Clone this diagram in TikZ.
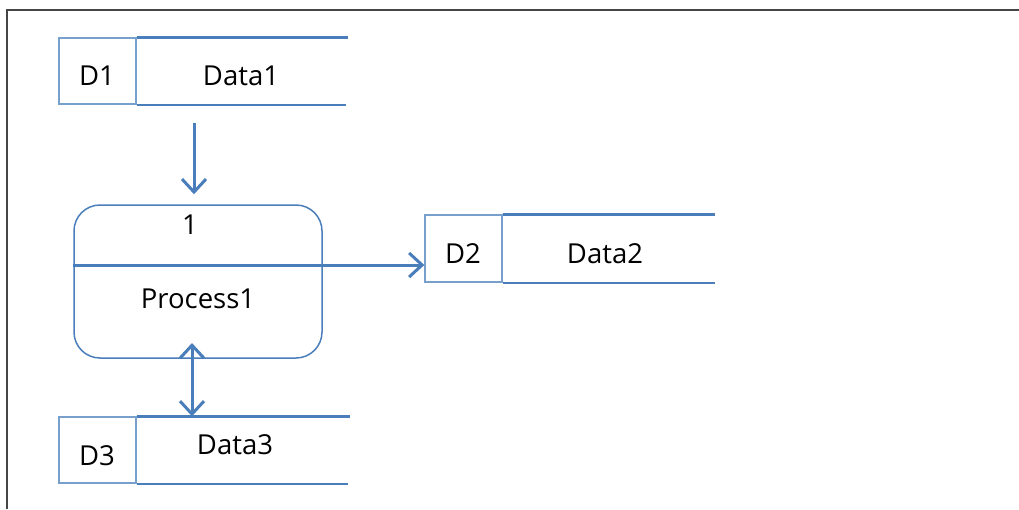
\documentclass[tikz,border=0pt]{standalone}
\usepackage{fontspec}
\setmainfont{Open Sans}
\usetikzlibrary{arrows.meta}
\definecolor{dfdblue}{RGB}{74,126,187}
\definecolor{idblue}{RGB}{120,160,205}
\definecolor{framegray}{RGB}{70,70,70}
\tikzset{
  x=1pt,y=-1pt,
  lbl/.style={font=\fontsize{27.5}{32}\selectfont, text=black, inner sep=0pt},
  idbox/.style={draw=idblue, line width=1.4pt, minimum width=77pt, minimum height=66pt, inner sep=0pt},
  storeline/.style={draw=dfdblue, line width=2.4pt},
  procbox/.style={draw=dfdblue, line width=1.5pt, rounded corners=26pt, minimum width=248pt, minimum height=153pt},
  barb/.tip={Straight Barb[length=13pt,width=24pt,line width=3pt]},
  flow/.style={draw=dfdblue, line width=3pt, -{barb}},
  bflow/.style={draw=dfdblue, line width=3pt, {barb}-{barb}}
}
\begin{document}
\begin{tikzpicture}
\useasboundingbox (0,0) rectangle (1019,509);
% outer frame
\draw[framegray, line width=2pt] (7,509) -- (7,10) -- (1019,10);

% data store D1
\node[idbox] (d1) at (97.5,71) {};
\coordinate (d1end) at (348,38);
\draw[storeline] (d1.north east) -- (d1.north east -| d1end);
\draw[storeline] (d1.south east) -- ([xshift=-2pt]d1.south east -| d1end);
\node[lbl] (d1id) at (97,76) {D1};
\node[lbl] (d1name) at (241,76) {Data1};

% process 1
\node[procbox] (p1) at (198,281.5) {};
\node[lbl] (p1id) at (190,225) {1};
\node[lbl] (p1name) at (198,299) {Process1};

% data store D2
\node[idbox, minimum height=67pt] (d2) at (463.5,248.5) {};
\coordinate (d2end) at (715,215);
\draw[storeline] (d2.north east) -- (d2.north east -| d2end);
\draw[storeline] (d2.south east) -- (d2.south east -| d2end);
\node[lbl] (d2id) at (463,254) {D2};
\node[lbl] (d2name) at (605,254) {Data2};

% data store D3
\node[idbox] (d3) at (97.5,450) {};
\coordinate (d3end) at (350,417);
\draw[storeline] (d3.north east) -- (d3.north east -| d3end);
\draw[storeline] (d3.south east) -- ([xshift=-2pt]d3.south east -| d3end);
\node[lbl] (d3id) at (97,456) {D3};
\node[lbl] (d3name) at (235,445) {Data3};

% flows
\coordinate (f1start) at (194,123);
\draw[flow] (f1start) -- (f1start |- p1.north) [shorten >=10pt];
\coordinate (f2y) at (0,265);
\draw[flow] (p1.west |- f2y) -- (d2.west |- f2y);
\coordinate (f3x) at (192,343);
\draw[bflow] (f3x) -- (f3x |- d3.north);
\end{tikzpicture}
\end{document}
